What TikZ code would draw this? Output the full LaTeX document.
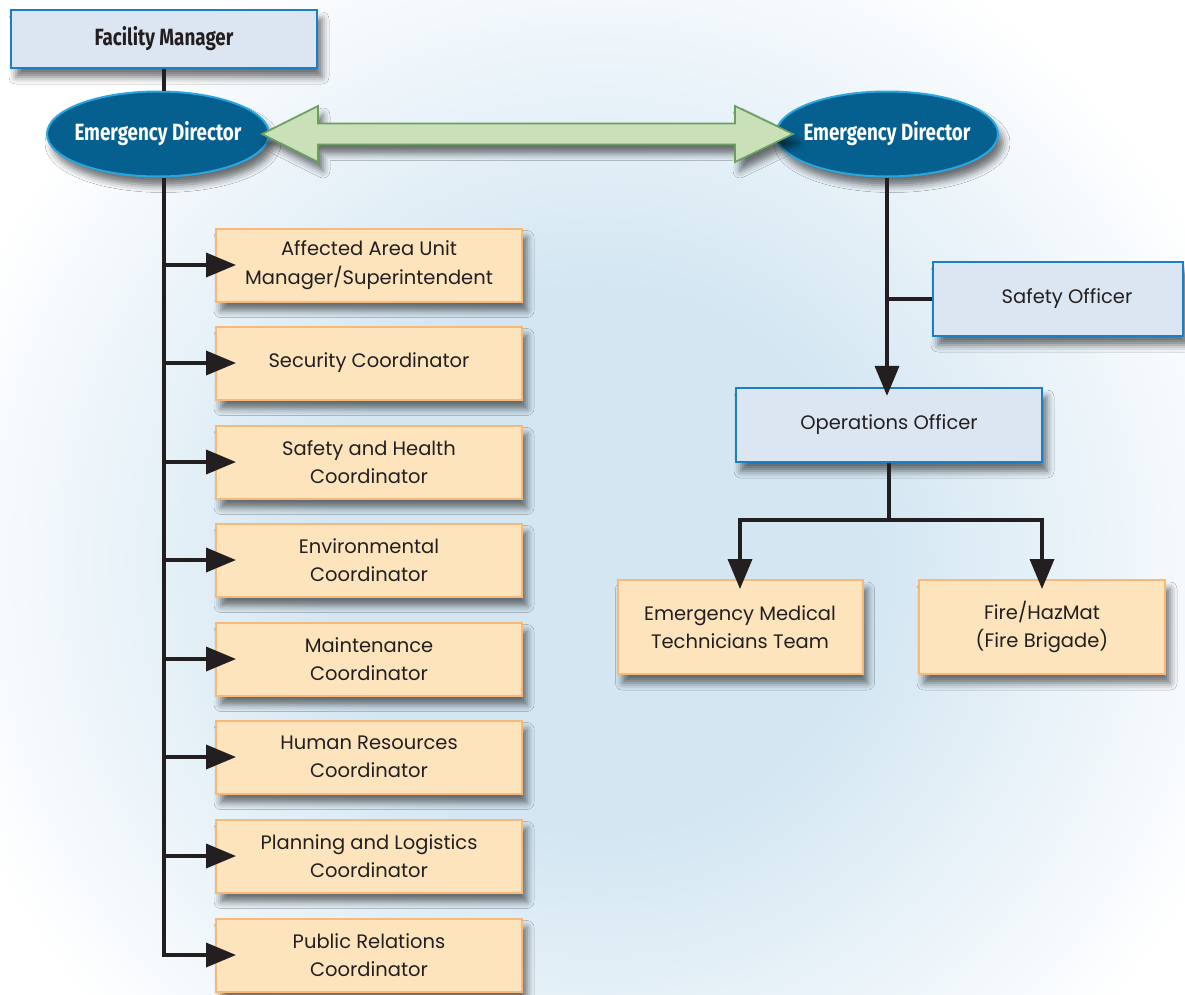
\documentclass[tikz,border=0pt]{standalone}
\usepackage{fontspec}
\setmainfont{Poppins}
\newfontfamily\condfont[FakeStretch=0.8]{Fira Sans}
\usetikzlibrary{shapes.geometric,arrows.meta,shadows.blur,calc}
\definecolor{ink}{HTML}{231F20}
\definecolor{bfill}{HTML}{DCE6F2}
\definecolor{bbord}{HTML}{1B7FC4}
\definecolor{ofill}{HTML}{FDE4BC}
\definecolor{obord}{HTML}{F6B97A}
\definecolor{efill}{HTML}{06608F}
\definecolor{ebord}{HTML}{2AA6DF}
\definecolor{gfill}{HTML}{C9E0B9}
\definecolor{gbord}{HTML}{6B9E5F}
\definecolor{bgin}{HTML}{D3E6F2}
\pgfdeclareradialshading{bgshade}{\pgfpoint{0bp}{0bp}}{color(0bp)=(bgin); color(10bp)=(bgin); color(25bp)=(white); color(50bp)=(white)}
\newcommand\boxfont{\fontsize{19.5}{28.5}\selectfont}
\newcommand\edfont{\condfont\bfseries\fontsize{23.5}{26}\selectfont}
\begin{document}
\begin{tikzpicture}[x=1pt,y=-1pt,
  every node/.style={inner sep=0pt,text=ink},
  shad/.style={blur shadow={shadow xshift=5pt,shadow yshift=-9pt,shadow blur radius=7pt,shadow opacity=55}},
  bluebox/.style={draw=bbord,line width=2.2pt,fill=bfill,shad,align=center,font=\boxfont},
  orbox/.style={draw=obord,line width=2pt,fill=ofill,shad,align=center,font=\boxfont},
  wide/.style={minimum width=306pt,minimum height=73pt},
  edir/.style={ellipse,draw=ebord,line width=2pt,fill=efill,shad,inner xsep=-8pt,inner ysep=0pt,minimum width=222pt,minimum height=85pt,text=white,font=\edfont},
  conn/.style={draw=ink,line width=3.6pt},
  arr/.style={conn,-{Triangle[length=30pt,width=24pt]}},
  greenarrow/.style={draw=gbord,fill=gfill,line width=1.6pt,line join=miter,shad},
]
\useasboundingbox (0,0) rectangle (1185,994);
\begin{scope}
\clip (0,0) rectangle (1185,994);
\fill[white] (0,0) rectangle (1185,994);
\shade[shading=bgshade] (600,560) circle (680pt);
\end{scope}

% nodes
\node[bluebox,minimum width=306pt,minimum height=58pt,font=\edfont] (fm) at (164,39) {Facility Manager};
\node[edir] (edL) at (158,134) {Emergency Director};
\node[edir] (edR) at (887,134) {Emergency Director};

% two-headed link between the directors
\coordinate (gL) at ($(edL.east)+(-8,0)$);
\coordinate (gR) at ($(edR.west)+(18,0)$);
\draw[greenarrow] (gL) -- ++(56,-28) -- ++(0,17.5) -- ($(gR)+(-58,-10.5)$) -- ++(0,-17.5) -- (gR)
  -- ++(-58,28) -- ++(0,-17.5) -- ($(gL)+(56,10.5)$) -- ++(0,17.5) -- cycle;

\node[orbox,wide] (b1) at (369,265) {Affected Area Unit\\Manager/Superintendent};
\node[orbox,wide] (b2) at (369,363) {Security Coordinator};
\node[orbox,wide] (b3) at (369,462) {Safety and Health\\Coordinator};
\node[orbox,wide] (b4) at (369,560) {Environmental\\Coordinator};
\node[orbox,wide] (b5) at (369,659) {Maintenance\\Coordinator};
\node[orbox,wide] (b6) at (369,757) {Human Resources\\Coordinator};
\node[orbox,wide] (b7) at (369,856) {Planning and Logistics\\Coordinator};
\node[orbox,wide] (b8) at (369,955) {Public Relations\\Coordinator};

\node[bluebox,minimum width=250pt,minimum height=74pt] (so) at (1058,299) {\hspace*{18pt}Safety Officer};
\node[bluebox,minimum width=306pt,minimum height=74pt] (oo) at (889,425) {Operations Officer};
\node[orbox,minimum width=245pt,minimum height=94pt] (emt) at (740,627) {Emergency Medical\\Technicians Team};
\node[orbox,minimum width=246pt,minimum height=94pt] (fire) at (1042,627) {Fire/HazMat\\(Fire Brigade)};

% connectors left
\draw[conn] (fm.south) -- (fm.south |- edL.north);
\draw[arr] (fm.south |- edL.south) -- (fm.south |- b8.west) -- ([xshift=21pt]b8.west);
\foreach \b in {b1,b2,b3,b4,b5,b6,b7}{
  \draw[arr] (fm.south |- \b.west) -- ([xshift=21pt]\b.west);
}
% connectors right
\draw[arr] (edR.south) -- ([yshift=-9pt]edR.south |- oo.north);
\draw[conn] (edR.south |- so.west) -- (so.west);
\draw[conn] (oo.south) -- (oo.south |- 0,520) coordinate (split);
\draw[arr] (split) -| ([yshift=-10pt]emt.north);
\draw[arr] (split) -| ([yshift=-10pt]fire.north);
\end{tikzpicture}
\end{document}
